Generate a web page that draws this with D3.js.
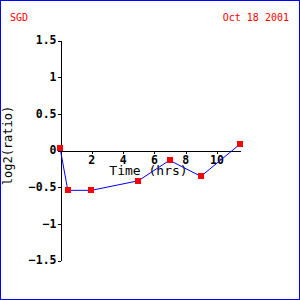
<!DOCTYPE html>
<html>
<head>
<meta charset="utf-8">
<script src="https://cdn.jsdelivr.net/npm/d3@7"></script>
<style>
  body { margin: 0; background: #fff; }
  svg { display: block; }
</style>
</head>
<body>
<svg id="chart" width="300" height="300"></svg>
<script>
const times = [0, 0.5, 2, 5, 7, 9, 11.5];
const ratios = [0.03, -0.55, -0.55, -0.42, -0.14, -0.36, 0.08];
const xTicks = [2, 4, 6, 8, 10];
const yTicks = [-1.5, -1, -0.5, 0, 0.5, 1, 1.5];
const leftTitle = 'SGD';
const rightTitle = 'Oct 18 2001';

function renderChart(sel) {
  const svg = d3.select(sel);
  const mono = "'DejaVu Sans Mono', monospace";

  svg.append('rect')
     .attr('x', 0.5).attr('y', 0.5)
     .attr('width', 299).attr('height', 299)
     .attr('fill', 'white')
     .attr('stroke', '#0000ff'); // frame

  const x = d3.scaleLinear().domain([0, 11.5]).range([60, 240]);
  const y = d3.scaleLinear().domain([-1.5, 1.5]).range([260, 40]);

  svg.append('text').attr('x', 10).attr('y', 21)
     .attr('font-family', mono).attr('font-size', '10px')
     .attr('fill', '#ff0000').text(leftTitle);
  svg.append('text').attr('x', 289).attr('y', 21)
     .attr('text-anchor', 'end')
     .attr('font-family', mono).attr('font-size', '10px')
     .attr('fill', '#ff0000').text(rightTitle);

  const yAxis = svg.append('g')
    .attr('transform', 'translate(60.5,0)')
    .call(d3.axisLeft(y).tickValues(yTicks).tickSize(3).tickSizeOuter(0).tickFormat(d3.format('')));
  yAxis.selectAll('text')
    .attr('x', -4)
    .attr('font-family', mono).attr('font-size', '11.5px').attr('font-weight', 'bold')
    .attr('fill', 'black');

  const xAxis = svg.append('g')
    .attr('transform', `translate(0,${y(0) + 0.5})`)
    .call(d3.axisBottom(x).tickValues(xTicks).tickSize(3).tickSizeOuter(0));
  xAxis.selectAll('text')
    .attr('y', 5)
    .attr('font-family', mono).attr('font-size', '11.5px').attr('font-weight', 'bold')
    .attr('fill', 'black');

  svg.selectAll('.domain, .tick line').attr('stroke', 'black').attr('shape-rendering', 'crispEdges');
  svg.selectAll('.tick line').attr('transform', function() {
    return this.parentNode.parentNode === xAxis.node() ? 'translate(0.5,0)' : 'translate(0,0.5)';
  });

  svg.append('text').attr('x', 148.5).attr('y', 174.5)
     .attr('text-anchor', 'middle')
     .attr('font-family', mono).attr('font-size', '13px')
     .attr('fill', 'black').text('Time (hrs)');

  svg.append('text')
     .attr('transform', 'translate(12,145.5) rotate(-90)')
     .attr('text-anchor', 'middle')
     .attr('font-family', mono).attr('font-size', '12px')
     .attr('fill', 'black').text('log2(ratio)');

  const pts = times.map((t, i) => [t, ratios[i]]);

  svg.append('path')
     .datum(pts)
     .attr('d', d3.line().x(d => x(d[0])).y(d => y(d[1])))
     .attr('fill', 'none')
     .attr('stroke', '#0000ff')
     .attr('stroke-width', 1);

  svg.selectAll('.marker')
     .data(pts)
     .enter()
     .append('rect')
     .attr('class', 'marker')
     .attr('x', d => Math.round(x(d[0])) - 3)
     .attr('y', d => Math.round(y(d[1])) - 3)
     .attr('width', 6).attr('height', 6)
     .attr('fill', '#ff0000');
}

renderChart('#chart');
</script>
</body>
</html>
